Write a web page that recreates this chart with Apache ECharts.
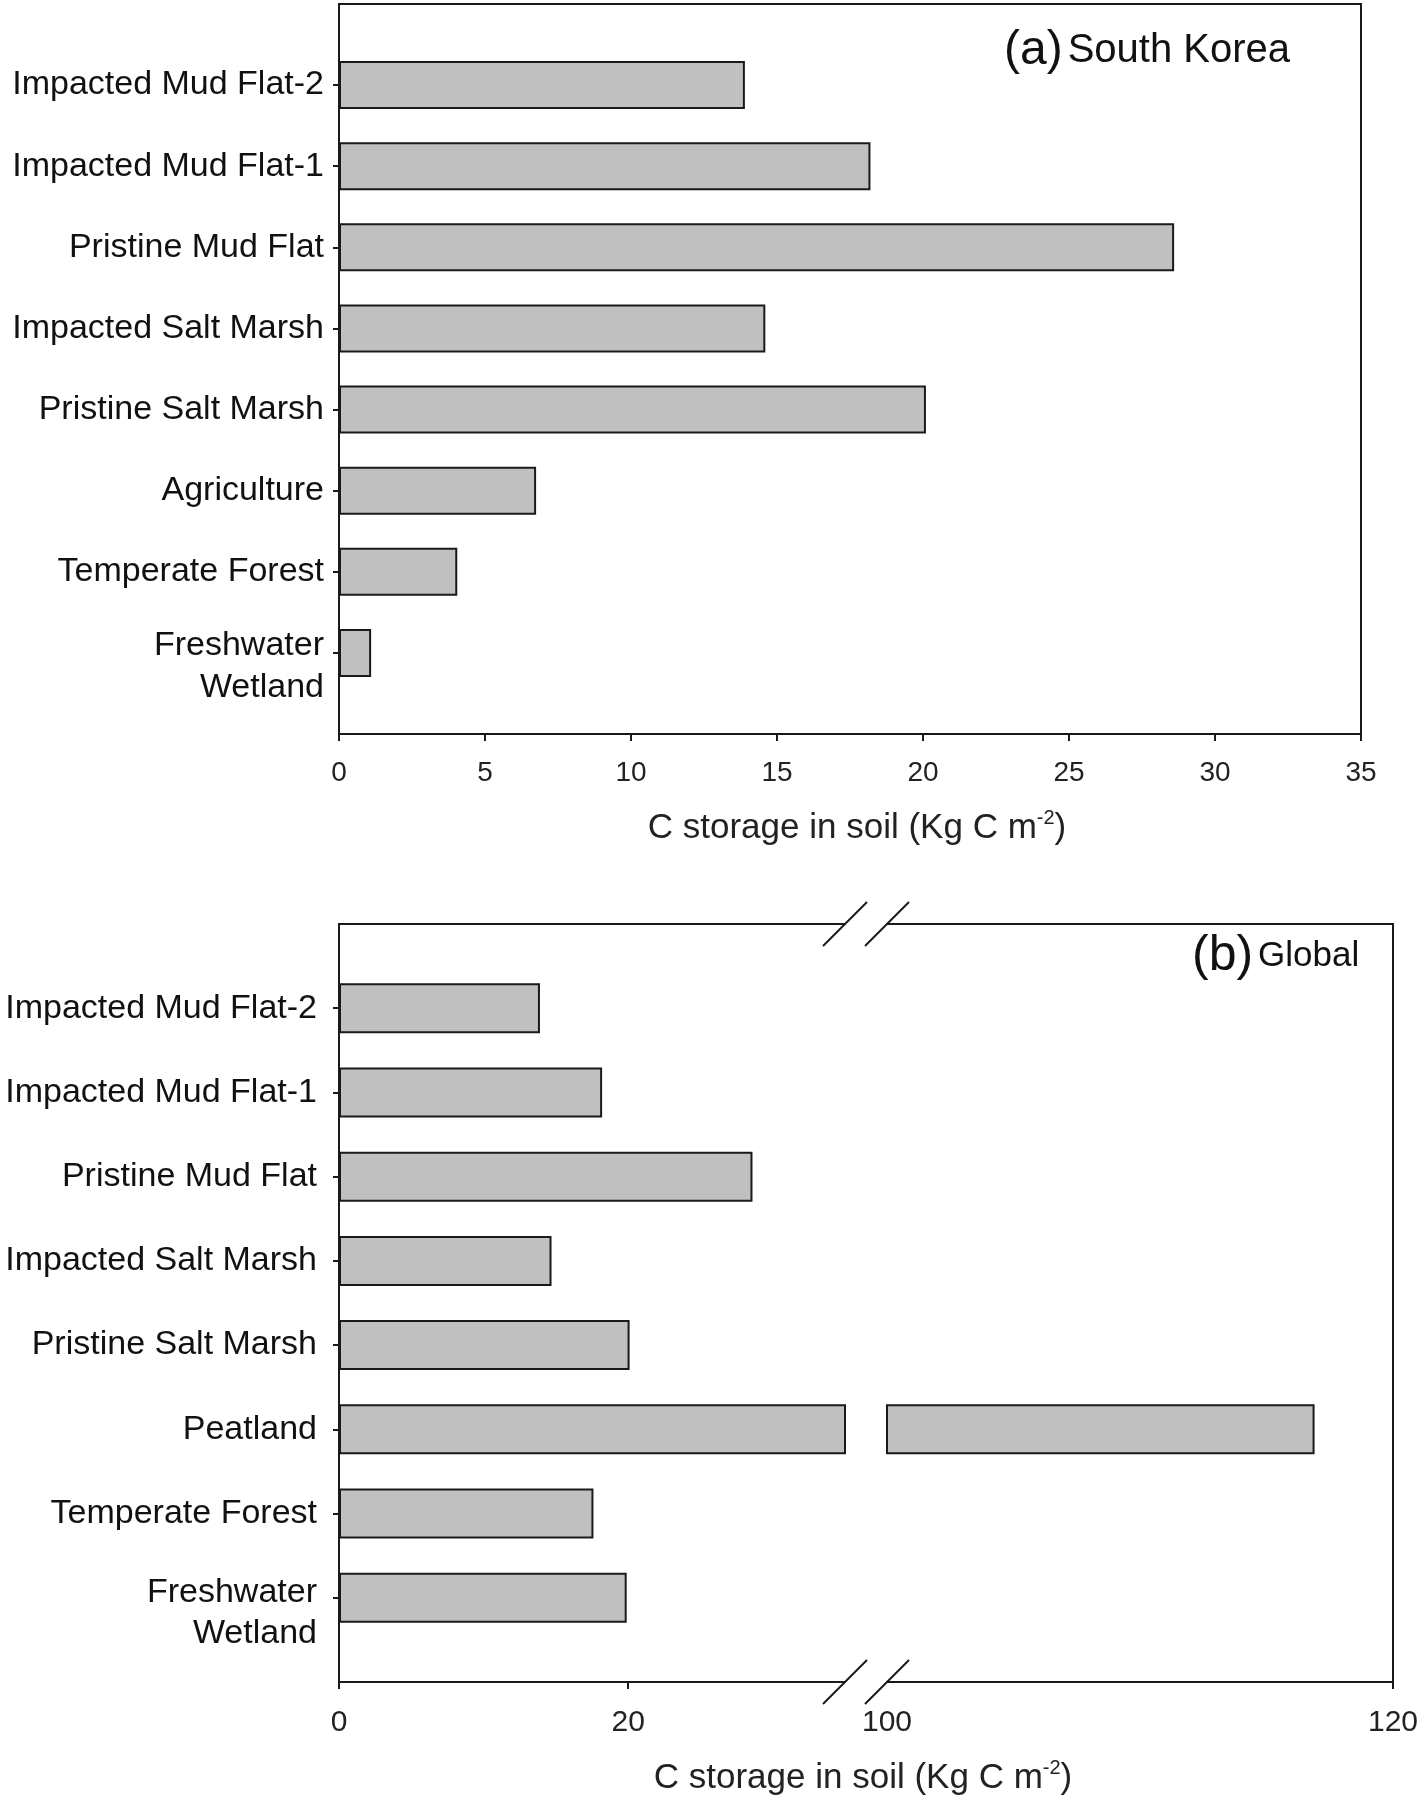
<!DOCTYPE html>
<html><head><meta charset="utf-8">
<script src="https://cdn.jsdelivr.net/npm/echarts@6/dist/echarts.min.js"></script>
<style>html,body{margin:0;padding:0;background:#fff}#c{width:1418px;height:1801px}</style>
</head><body><div id="c"></div>
<script>
// ---- data ----
const koreaCategories = ['Freshwater\nWetland', 'Temperate Forest', 'Agriculture', 'Pristine Salt Marsh', 'Impacted Salt Marsh', 'Pristine Mud Flat', 'Impacted Mud Flat-1', 'Impacted Mud Flat-2'];
const koreaValues = [1.1, 4.05, 6.75, 20.1, 14.6, 28.6, 18.2, 13.9];
const koreaRange = [0, 35];
const koreaTickStep = 5;

const globalCategories = ['Freshwater\nWetland', 'Temperate Forest', 'Peatland', 'Pristine Salt Marsh', 'Impacted Salt Marsh', 'Pristine Mud Flat', 'Impacted Mud Flat-1', 'Impacted Mud Flat-2'];
const globalValues = [19.9, 17.6, 116.9, 20.1, 14.7, 28.6, 18.2, 13.9];
const globalLowRange = [0, 35];
const globalLowTicks = [0, 20];
const globalHighRange = [100, 120];
const globalHighLabels = [100, 120];
const globalHighTicks = [120];

const axisTitle = '{n|C storage in soil (Kg C m}{s|-2}{n|)}';

// ---- styling helpers ----
const FONT = '"Liberation Sans", Arial, Helvetica, sans-serif';
const INK = '#1a1a1a';
const lineStyle = { color: INK, width: 2 };
const padV = arr => ['-', ...arr, '-'];
const titleRich = {
  n: { fontSize: 35, color: '#222', fontFamily: FONT, lineHeight: 40 },
  s: { fontSize: 20, color: '#222', fontFamily: FONT, verticalAlign: 'top', lineHeight: 20 }
};
const barStyle = { color: '#c0c0c0', borderColor: INK, borderWidth: 2 };

function catLabel(lineH, spacer, margin) {
  return {
    show: true, interval: 0, fontSize: 34, color: '#111', fontFamily: FONT, margin, lineHeight: lineH,
    formatter: v => {
      if (v.indexOf('\n') < 0) return v;
      return '{sp| }\n' + v.split('\n').map(p => '{m|' + p + '}').join('\n');
    },
    rich: {
      sp: { fontSize: 2, lineHeight: spacer, height: spacer },
      m: { fontSize: 34, color: '#111', fontFamily: FONT, lineHeight: lineH }
    }
  };
}
function catAxis(gridIndex, cats, label, opts) {
  return Object.assign({
    type: 'category', gridIndex, data: ['', ...cats, ' '], boundaryGap: false,
    axisLine: { show: true, onZero: false, lineStyle },
    axisTick: { show: true, length: 6, inside: false, interval: (i, v) => String(v).trim() !== '', lineStyle },
    axisLabel: label,
    splitLine: { show: false }, splitArea: { show: false }
  }, opts || {});
}
function borderXAxis(gridIndex, range) {
  return {
    type: 'value', gridIndex, position: 'top', min: range[0], max: range[1],
    axisLine: { show: true, onZero: false, lineStyle },
    axisTick: { show: false }, axisLabel: { show: false }, splitLine: { show: false }
  };
}

const option = {
  backgroundColor: '#fff',
  animation: false,
  title: [
    { text: '{p|(a)} {t|South Korea}', left: 1004, top: 27, padding: 0,
      textStyle: { rich: {
        p: { fontSize: 48, fontFamily: FONT, color: '#111', fontWeight: 'normal' },
        t: { fontSize: 40, fontFamily: FONT, color: '#111', fontWeight: 'normal' } } } },
    { text: '{p|(b)} {t|Global}', left: 1192, top: 931, padding: 0,
      textStyle: { rich: {
        p: { fontSize: 50, fontFamily: FONT, color: '#111', fontWeight: 'normal' },
        t: { fontSize: 35, fontFamily: FONT, color: '#111', fontWeight: 'normal' } } } }
  ],
  grid: [
    { left: 339, top: 4, width: 1022, height: 730, show: true, borderColor: INK, borderWidth: 2, backgroundColor: 'transparent', containLabel: false, outerBoundsMode: 'none' },
    { left: 339, top: 924, width: 506, height: 758, show: false, containLabel: false, outerBoundsMode: 'none' },
    { left: 887, top: 924, width: 506, height: 758, show: false, containLabel: false, outerBoundsMode: 'none' },
    { left: 339, top: 924, width: 1054, height: 758, show: false, containLabel: false, outerBoundsMode: 'none' }
  ],
  xAxis: [
    { // 0: top chart
      type: 'value', gridIndex: 0, min: koreaRange[0], max: koreaRange[1], interval: koreaTickStep, position: 'bottom',
      axisLine: { show: true, onZero: false, lineStyle },
      axisTick: { show: true, length: 7, lineStyle },
      axisLabel: { fontSize: 28, color: '#222', fontFamily: FONT, margin: 25 },
      splitLine: { show: false },
      name: axisTitle, nameLocation: 'middle', nameGap: 74,
      nameTextStyle: { rich: titleRich, padding: [0, 0, 0, 14] }
    },
    { // 1: bottom-left
      type: 'value', gridIndex: 1, min: globalLowRange[0], max: globalLowRange[1], position: 'bottom',
      axisLine: { show: true, onZero: false, lineStyle },
      axisTick: { show: true, length: 7, lineStyle, customValues: globalLowTicks },
      axisLabel: { fontSize: 30, color: '#222', fontFamily: FONT, margin: 26, customValues: globalLowTicks },
      splitLine: { show: false }
    },
    borderXAxis(1, globalLowRange), // 2
    { // 3: bottom-right
      type: 'value', gridIndex: 2, min: globalHighRange[0], max: globalHighRange[1], position: 'bottom',
      axisLine: { show: true, onZero: false, lineStyle },
      axisTick: { show: true, length: 7, lineStyle, customValues: globalHighTicks },
      axisLabel: { fontSize: 30, color: '#222', fontFamily: FONT, margin: 26, customValues: globalHighLabels },
      splitLine: { show: false }
    },
    borderXAxis(2, globalHighRange), // 4
    { // 5: name holder for bottom chart
      type: 'value', gridIndex: 3, min: 0, max: 1, position: 'bottom',
      axisLine: { show: false }, axisTick: { show: false }, axisLabel: { show: false }, splitLine: { show: false },
      name: axisTitle, nameLocation: 'middle', nameGap: 76,
      nameTextStyle: { rich: titleRich, padding: [0, 6, 0, 0] }
    }
  ],
  yAxis: [
    catAxis(0, koreaCategories, catLabel(42, 28, 15)),
    catAxis(1, globalCategories, catLabel(41, 31, 22)),
    catAxis(2, globalCategories, { show: false }, { position: 'right', axisTick: { show: false } }),
    { type: 'value', gridIndex: 3, show: false, min: 0, max: 1 }
  ],
  series: [
    { type: 'bar', xAxisIndex: 0, yAxisIndex: 0, data: padV(koreaValues), barWidth: 48, itemStyle: barStyle, clip: true },
    { type: 'bar', xAxisIndex: 1, yAxisIndex: 1, data: padV(globalValues), barWidth: 50, itemStyle: barStyle, clip: true },
    { type: 'bar', xAxisIndex: 3, yAxisIndex: 2, data: padV(globalValues.map(v => v > globalHighRange[0] ? v : '-')), barWidth: 50, itemStyle: barStyle, clip: true }
  ]
};

const chart = echarts.init(document.getElementById('c'), null, { renderer: 'canvas' });
chart.setOption(option);

// axis-break marks at the split between the two bottom panels
const lastIdx = globalCategories.length + 1;
const breakPts = [
  chart.convertToPixel({ gridIndex: 1 }, [globalLowRange[1], lastIdx]),
  chart.convertToPixel({ gridIndex: 2 }, [globalHighRange[0], lastIdx]),
  chart.convertToPixel({ gridIndex: 1 }, [globalLowRange[1], 0]),
  chart.convertToPixel({ gridIndex: 2 }, [globalHighRange[0], 0])
];
chart.setOption({
  graphic: breakPts.map(p => ({
    type: 'line', z: 100,
    shape: { x1: p[0] - 22, y1: p[1] + 22, x2: p[0] + 22, y2: p[1] - 22 },
    style: { stroke: INK, lineWidth: 2 }
  }))
});
</script></body></html>
